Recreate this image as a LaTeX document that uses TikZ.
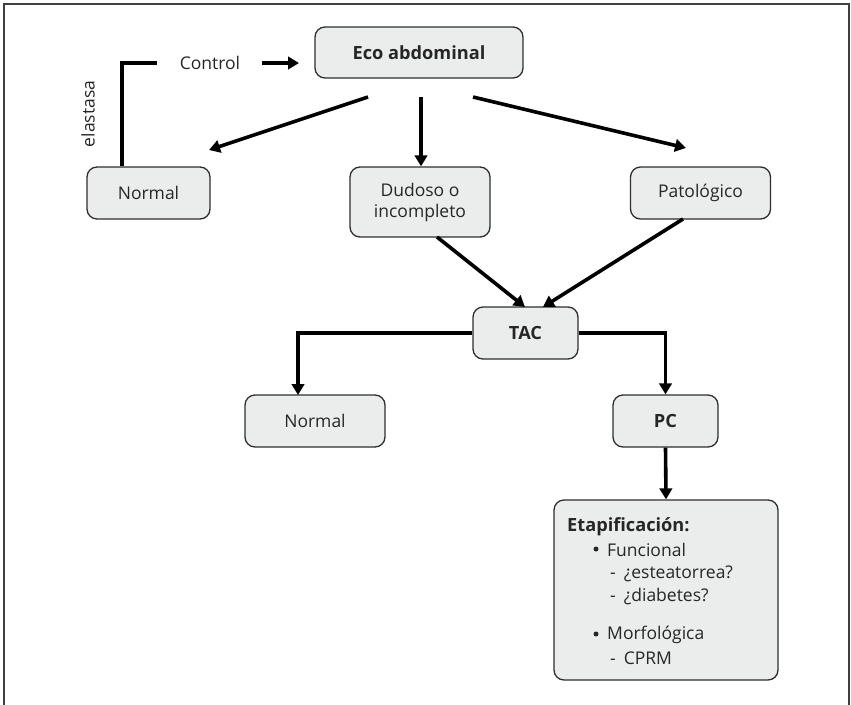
\documentclass[tikz,border=0pt]{standalone}
\usepackage{fontspec}
\setmainfont{Open Sans}
\usetikzlibrary{arrows.meta}
\definecolor{boxfill}{HTML}{EBECEC}
\definecolor{boxdraw}{HTML}{2E2E2E}
\definecolor{txtc}{HTML}{262626}
\newcommand{\fsz}{\fontsize{17.5}{21}\selectfont}
\newcommand{\fbz}{\fontsize{18.2}{22}\selectfont\bfseries}
\begin{document}
\begin{tikzpicture}[x=1pt,y=-1pt,
  box/.style={draw=boxdraw,fill=boxfill,line width=1.3pt,rounded corners=10pt,
    align=center,font=\fsz,text=txtc,inner sep=0pt},
  conn/.style={line width=3.6pt,-{Triangle[length=11pt,width=12.5pt]}},
  plain/.style={line width=3.6pt},
  txt/.style={font=\fsz,text=txtc,inner sep=0pt,anchor=west},
  bul/.style={circle,fill=txtc,inner sep=0pt,minimum size=5pt}]
\useasboundingbox (0,0) rectangle (851,704);
\draw[line width=1.6pt,black!75] (4,706) -- (4,4) -- (849,4) -- (849,706);

\node[box,minimum width=208pt,minimum height=51pt,font=\fbz] (eco) at (419,52.5) {Eco abdominal};
\node[box,minimum width=123pt,minimum height=52pt] (n1) at (148.5,193) {Normal};
\node[box,minimum width=140pt,minimum height=70pt] (dud) at (420,202) {Dudoso o\\incompleto};
\node[box,minimum width=140pt,minimum height=52pt] (pat) at (700.5,193) {Patológico};
\node[box,minimum width=105pt,minimum height=52pt,font=\fbz] (tac) at (525.5,333) {TAC};
\node[box,minimum width=140pt,minimum height=52pt] (n2) at (315,421) {Normal};
\node[box,minimum width=105pt,minimum height=52pt,font=\fbz] (pc) at (665.5,421) {PC};
\node[box,minimum width=224pt,minimum height=180pt] (eta) at (666,590) {};

\node[font=\fsz,text=txtc,inner sep=0pt] (ctrl) at (210,63) {Control};
\node[font=\fsz,text=txtc,inner sep=0pt,rotate=90] (ela) at (88,114) {elastasa};

\node[txt,font=\fbz] (e1) at (567,527) {Etapificación:};
\node[bul] (e2b) at (596,549) {};
\node[txt] (e2) at (607,550) {Funcional};
\node[txt] (e3) at (610,574) {-\hspace{8pt}¿esteatorrea?};
\node[txt] (e4) at (610,597) {-\hspace{8pt}¿diabetes?};
\node[bul] (e5b) at (596,634) {};
\node[txt] (e5) at (607,635) {Morfológica};
\node[txt] (e6) at (610,658) {-\hspace{8pt}CPRM};

% control loop
\coordinate (c1) at (262,63);
\coordinate (c2) at (299,63);
\coordinate (b1) at (157,63);
\coordinate (b2) at (122,63);
\draw[conn] (c1) -- (c2);
\draw[plain] (b1) -- (b2) -- (b2 |- n1.north);

% from eco
\coordinate (s1) at (368,97);
\coordinate (t1) at (209,150);
\coordinate (s2) at (421,97);
\coordinate (s3) at (473,97);
\coordinate (t3) at (686,148);
\draw[conn] (s1) -- (t1);
\draw[conn] (s2) -- (s2 |- dud.north);
\draw[conn] (s3) -- (t3);

% to TAC
\coordinate (d1) at (437,237);
\coordinate (d2) at (525,307);
\coordinate (p1) at (683,219);
\coordinate (p2) at (543,307);
\draw[conn] (d1) -- (d2);
\draw[conn] (p1) -- (p2);

% from TAC
\coordinate (nx) at (298,395);
\draw[conn] (tac.west) -| (nx);
\draw[conn] (tac.east) -| (pc.north);
\draw[conn] (pc.south) -- (eta.north);
\end{tikzpicture}
\end{document}
